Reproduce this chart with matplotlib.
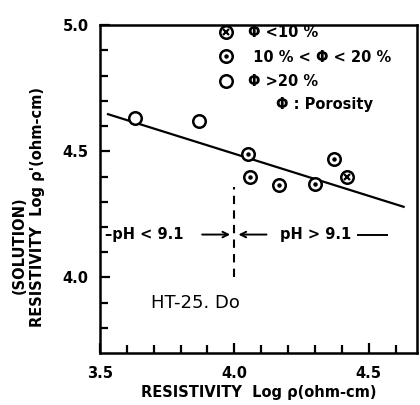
import matplotlib
matplotlib.use('Agg')
import matplotlib.pyplot as plt
from matplotlib.lines import Line2D

# porosity groups (log resistivity of rock vs solution)
open_x  = [3.63, 3.87]
open_y  = [4.63, 4.62]
dot_x   = [4.05, 4.06, 4.165, 4.30, 4.37]
dot_y   = [4.49, 4.40, 4.365, 4.37, 4.47]
cross_x = [4.42]
cross_y = [4.40]

# fitted line
fit_x = [3.53, 4.63]
fit_y = [4.647, 4.28]

ph_split = 4.0
x_ticks = [3.5, 4.0, 4.5]
y_ticks = [4.0, 4.5, 5.0]

plt.rcParams['font.family'] = 'DejaVu Sans'
plt.rcParams['font.weight'] = 'bold'

fig = plt.figure(figsize=(4.2, 4.05), dpi=100)
ax = fig.add_axes([0.238, 0.128, 0.755, 0.81])
ax.set_xlim(3.5, 4.68)
ax.set_ylim(3.7, 5.0)

ms = 9
mew = 1.8
circ = dict(linestyle='none', marker='o', ms=ms, mfc='white', mec='black', mew=mew, zorder=3)

ax.plot(fit_x, fit_y, color='black', lw=1.6, zorder=2)
ax.plot(open_x, open_y, **circ)
ax.plot(dot_x, dot_y, **circ)
ax.plot(dot_x, dot_y, linestyle='none', marker='o', ms=2.2, color='black', zorder=4)
ax.plot(cross_x, cross_y, **circ)
ax.plot(cross_x, cross_y, linestyle='none', marker='x', ms=5, mew=1.6, color='black', zorder=4)

# pH boundary
ax.plot([ph_split, ph_split], [4.0, 4.36], color='black', lw=1.5, ls=(0, (4, 3)))

ty = 4.17
ax.text(3.52, ty, '\u2013pH < 9.1', ha='left', va='center', fontsize=10.5)
ax.annotate('', xy=(ph_split - 0.005, ty), xytext=(3.87, ty),
            arrowprops=dict(arrowstyle='->', lw=1.4, color='black'))
ax.annotate('', xy=(ph_split + 0.005, ty), xytext=(4.13, ty),
            arrowprops=dict(arrowstyle='->', lw=1.4, color='black'))
ax.text(4.17, ty, 'pH > 9.1', ha='left', va='center', fontsize=10.5)
ax.plot([4.46, 4.57], [ty, ty], color='black', lw=1.4)

ax.text(3.69, 3.9, 'HT-25. Do', ha='left', va='center', fontsize=13, fontweight='normal')

# legend
h_cross = (Line2D([], [], **circ),
           Line2D([], [], linestyle='none', marker='x', ms=5, mew=1.6, color='black'))
h_dot = (Line2D([], [], **circ),
         Line2D([], [], linestyle='none', marker='o', ms=2.2, color='black'))
h_open = Line2D([], [], **circ)
leg = ax.legend([h_cross, h_dot, h_open],
                ['\u03a6 <10 %', ' 10 % < \u03a6 < 20 %', '\u03a6 >20 %'],
                loc='upper left', bbox_to_anchor=(0.33, 1.04), frameon=False,
                handlelength=1.2, handletextpad=0.9, labelspacing=0.65,
                prop=dict(size=10.5, weight='bold'))
ax.text(0.555, 0.758, '\u03a6 : Porosity', transform=ax.transAxes,
        ha='left', va='center', fontsize=10.5, fontweight='bold')

ax.set_xticks(x_ticks)
ax.set_yticks(y_ticks)
ax.set_xticks([3.6, 3.7, 3.8, 3.9, 4.1, 4.2, 4.3, 4.4, 4.6], minor=True)
ax.set_yticks([3.8, 3.9, 4.1, 4.2, 4.3, 4.4, 4.6, 4.7, 4.8, 4.9], minor=True)
ax.tick_params(which='both', direction='in', width=1.6, labelsize=10.5)
ax.tick_params(which='major', length=7)
ax.tick_params(which='minor', length=6)
ax.tick_params(axis='x', pad=9)
ax.tick_params(axis='y', pad=8)
for lab in ax.get_xticklabels() + ax.get_yticklabels():
    lab.set_fontweight('bold')

for s in ax.spines.values():
    s.set_linewidth(1.8)

ax.set_xlabel('RESISTIVITY  Log \u03c1(ohm-cm)', fontsize=10.5, fontweight='bold', labelpad=3)
fig.text(0.046, 0.395, '(SOLUTION)', rotation=90, ha='center', va='center',
         fontsize=10.5, fontweight='bold')
fig.text(0.090, 0.49, "RESISTIVITY  Log \u03c1'(ohm-cm)", rotation=90, ha='center', va='center',
         fontsize=10.5, fontweight='bold')

fig.savefig('out.png', dpi=100)
